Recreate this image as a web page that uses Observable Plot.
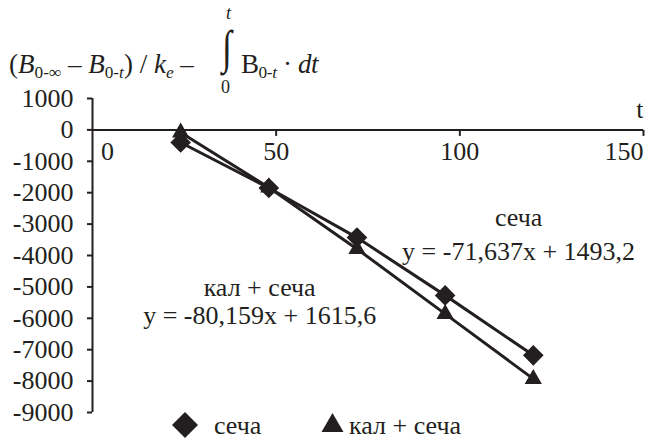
<!DOCTYPE html>
<html><head><meta charset="utf-8">
<script src="https://cdn.jsdelivr.net/npm/d3@7"></script>
<script src="https://cdn.jsdelivr.net/npm/@observablehq/plot@0.6"></script>
<style>
body{margin:0;background:#fff;overflow:hidden}
#wrap{position:relative;width:646px;height:439px;font-family:'Liberation Serif',serif;color:#231f20;background:#fff}
#chart svg{display:block}
#chart svg, #chart svg text{font-family:'Liberation Serif',serif !important}
.ttl{position:absolute;top:51px;font-size:27px;line-height:27px;white-space:nowrap}
.ttl sub{font-size:0.64em;vertical-align:-0.3em;line-height:0}
.abs{position:absolute;white-space:nowrap}
#int{left:222px;top:34px;font-size:36px;line-height:20px;transform:scaleY(1.3);transform-origin:top left}
#intT{left:226px;top:6px;font-size:18px;line-height:14px;font-style:italic}
#int0{left:221px;top:80px;font-size:18px;line-height:14px}
.leg{font-size:26px;line-height:26px;top:413px}
</style></head>
<body><div id="wrap"><div id="chart"></div>
<div class="ttl" style="left:9px">(<i>B</i><sub>0-∞</sub> – <i>B</i><sub>0-<i>t</i></sub>) / <i>k</i><sub><i>e</i></sub> –</div>
<div class="ttl" style="left:241px;letter-spacing:-0.4px">B<sub>0-<i>t</i></sub> · <i>dt</i></div>
<div id="int" class="abs">∫</div>
<div id="intT" class="abs">t</div>
<div id="int0" class="abs">0</div>
<div id="legend"></div>
</div>
<script>
const ink = "#231f20";
const seriesNames = ["сеча", "кал + сеча"];
const tValues = [24, 48, 72, 96, 120];
const sechaValues = [-400, -1850, -3430, -5270, -7180];
const kalSechaValues = [-80, -1835, -3790, -5860, -7930];
const yTicks = [1000, 0, -1000, -2000, -3000, -4000, -5000, -6000, -7000, -8000, -9000];
const xTicks = [0, 50, 100, 150];
const trendEquations = ["y = -71,637x + 1493,2", "y = -80,159x + 1615,6"];
const axisTitleX = "t";

const sechaRows = tValues.map((t, i) => ({t, v: sechaValues[i]}));
const kalRows = tValues.map((t, i) => ({t, v: kalSechaValues[i]}));

// annotation anchor positions (data units)
const annotations = [
  {x: 116, y: -2780, text: seriesNames[0]},
  {x: 116, y: -3863, text: trendEquations[0]},
  {x: 45.5, y: -5010, text: seriesNames[1]},
  {x: 45.5, y: -5901, text: trendEquations[1]}
];

const tickDown = {draw(ctx) { ctx.moveTo(0, 0); ctx.lineTo(0, 6); }};
const font = "Liberation Serif, serif";

const plot = Plot.plot({
  width: 646, height: 439,
  marginLeft: 92, marginRight: 3, marginTop: 98, marginBottom: 27,
  x: {domain: [0, 150], axis: null},
  y: {domain: [-9000, 1000], axis: null},
  style: {fontFamily: font, fontSize: "26px", color: ink, background: "white", overflow: "visible"},
  marks: [
    Plot.ruleY([0], {stroke: ink, strokeWidth: 2}),
    Plot.ruleX([0], {stroke: ink, strokeWidth: 2}),
    Plot.axisY({ticks: yTicks, tickSize: 5, tickPadding: 14, tickFormat: d => String(d), strokeWidth: 2, fontSize: 26, label: null, fill: ink, stroke: ink}),
    Plot.dot(xTicks.slice(1), {x: d => d, y: () => 0, symbol: tickDown, stroke: ink, strokeWidth: 2, fill: "none", r: 1}),
    Plot.text([xTicks[0]], {x: d => d, y: () => 0, text: d => String(d), dx: 15, dy: 22, fill: ink}),
    Plot.text(xTicks.slice(1, 3), {x: d => d, y: () => 0, text: d => String(d), dy: 22, fill: ink}),
    Plot.text([xTicks[3]], {x: d => d, y: () => 0, text: d => String(d), dy: 22, textAnchor: "end", fill: ink}),
    Plot.text([axisTitleX], {x: () => xTicks[3], y: () => 0, text: d => d, textAnchor: "end", dy: -20, fill: ink}),
    Plot.line(sechaRows, {x: "t", y: "v", stroke: ink, strokeWidth: 3}),
    Plot.line(kalRows, {x: "t", y: "v", stroke: ink, strokeWidth: 3}),
    Plot.dot(sechaRows, {x: "t", y: "v", symbol: d3.symbolDiamond2, r: 9.3, fill: ink, stroke: "none"}),
    Plot.dot(kalRows, {x: "t", y: "v", symbol: "triangle", r: 6.4, fill: ink, stroke: "none"}),
    Plot.text(annotations, {x: "x", y: "y", text: "text", fill: ink, fontSize: 26})
  ]
});
document.getElementById("chart").appendChild(plot);

// legend
const legend = document.getElementById("legend");
legend.innerHTML =
  `<svg class="abs" style="left:171px;top:411px" width="28" height="28"><polygon points="14,1 27,14 14,27 1,14" fill="${ink}"/></svg>` +
  `<div class="abs leg" style="left:214px">${seriesNames[0]}</div>` +
  `<svg class="abs" style="left:321px;top:412px" width="24" height="22"><polygon points="11.5,1 22.5,20 0.5,20" fill="${ink}"/></svg>` +
  `<div class="abs leg" style="left:349px">${seriesNames[1]}</div>`;
</script>
</body></html>
